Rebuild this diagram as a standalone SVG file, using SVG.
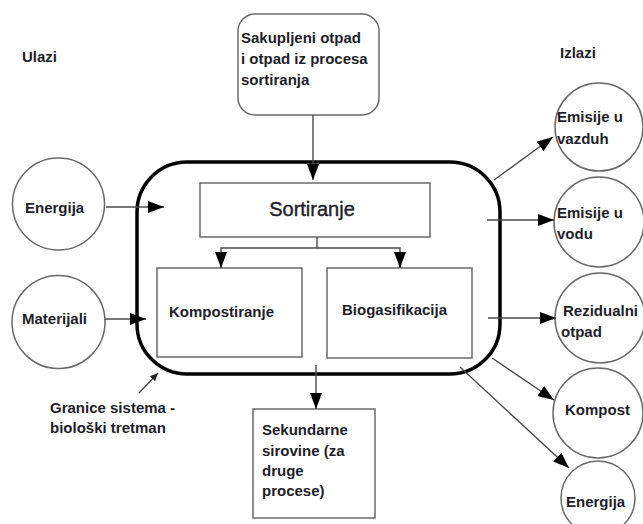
<svg xmlns="http://www.w3.org/2000/svg" width="643" height="524" viewBox="0 0 643 524">
  <style>
    .lbl { font-family: "Liberation Sans", Arial, sans-serif; font-size: 15px; font-weight: bold; fill: #1e1e28; }
    .big { font-family: "Liberation Sans", Arial, sans-serif; font-size: 20px; fill: #1e1e28; stroke: #1e1e28; stroke-width: 0.4; }
    .node { fill: #ffffff; stroke: #6a6a6a; stroke-width: 1.5; }
    .box { fill: #ffffff; stroke: #6a6a6a; stroke-width: 1.5; }
    .link { fill: none; stroke: #4a4a4a; stroke-width: 1.4; }
    .boundary { fill: none; stroke: #000000; stroke-width: 3.5; }
  </style>
  <defs>
    <marker id="arrow" markerUnits="userSpaceOnUse" markerWidth="16" markerHeight="12" refX="16" refY="6" orient="auto">
      <path d="M0,0 L16,6 L0,12 z" fill="#000000"/>
    </marker>
    <marker id="arrowSmall" markerUnits="userSpaceOnUse" markerWidth="8" markerHeight="7" refX="8" refY="3.5" orient="auto">
      <path d="M0,0 L8,3.5 L0,7 z" fill="#222222"/>
    </marker>
  </defs>

  <rect width="643" height="524" fill="#ffffff"/>

  <!-- column headings -->
  <text class="lbl" x="22" y="62">Ulazi</text>
  <text class="lbl" x="560" y="58">Izlazi</text>

  <!-- system boundary -->
  <g id="boundary">
    <rect class="boundary" x="137" y="162" width="363" height="212" rx="50" ry="50"/>
    <text class="lbl" x="50" y="413">Granice sistema -</text>
    <text class="lbl" x="50" y="433">biološki tretman</text>
  </g>

  <!-- inputs -->
  <g id="input-waste">
    <rect class="box" x="238" y="14" width="141" height="101" rx="17" ry="17"/>
    <text class="lbl" x="241" y="43">Sakupljeni otpad</text>
    <text class="lbl" x="241" y="64">i otpad iz procesa</text>
    <text class="lbl" x="241" y="85">sortiranja</text>
  </g>
  <g id="input-energy">
    <circle class="node" cx="58.5" cy="204" r="46"/>
    <text class="lbl" x="25" y="213">Energija</text>
  </g>
  <g id="input-materials">
    <circle class="node" cx="58.5" cy="322" r="46.5"/>
    <text class="lbl" x="22" y="324">Materijali</text>
  </g>

  <!-- processes -->
  <g id="sorting">
    <rect class="box" x="200" y="183" width="230" height="54"/>
    <text class="big" x="312" y="216" text-anchor="middle">Sortiranje</text>
  </g>
  <g id="composting">
    <rect class="box" x="157" y="268" width="145" height="89"/>
    <text class="lbl" x="169" y="317">Kompostiranje</text>
  </g>
  <g id="biogas">
    <rect class="box" x="327" y="268" width="145" height="90"/>
    <text class="lbl" x="342" y="315">Biogasifikacija</text>
  </g>
  <g id="secondary">
    <rect class="box" x="253" y="409" width="122" height="109"/>
    <text class="lbl" x="262" y="435">Sekundarne</text>
    <text class="lbl" x="262" y="456">sirovine (za</text>
    <text class="lbl" x="262" y="476">druge</text>
    <text class="lbl" x="262" y="496">procese)</text>
  </g>

  <!-- outputs -->
  <g id="out-air">
    <circle class="node" cx="599" cy="127" r="44"/>
    <text class="lbl" x="557" y="122">Emisije u</text>
    <text class="lbl" x="557" y="144">vazduh</text>
  </g>
  <g id="out-water">
    <circle class="node" cx="599" cy="222" r="45"/>
    <text class="lbl" x="557" y="218">Emisije u</text>
    <text class="lbl" x="557" y="239">vodu</text>
  </g>
  <g id="out-residual">
    <circle class="node" cx="600" cy="318" r="45"/>
    <text class="lbl" x="563" y="316">Rezidualni</text>
    <text class="lbl" x="561" y="337">otpad</text>
  </g>
  <g id="out-compost">
    <circle class="node" cx="598" cy="413" r="45"/>
    <text class="lbl" x="565" y="415">Kompost</text>
  </g>
  <g id="out-energy">
    <circle class="node" cx="598" cy="498" r="37"/>
    <text class="lbl" x="566" y="507">Energija</text>
  </g>

  <!-- connectors -->
  <g id="connectors">
    <line class="link" x1="313" y1="115" x2="313" y2="180" marker-end="url(#arrow)"/>
    <line class="link" x1="106" y1="207" x2="164" y2="207" marker-end="url(#arrow)"/>
    <line class="link" x1="105" y1="319" x2="146" y2="319" marker-end="url(#arrow)"/>
    <polyline class="link" points="317,237 317,248 221,248 221,268" marker-end="url(#arrow)"/>
    <polyline class="link" points="317,248 400,248 400,268" marker-end="url(#arrow)"/>
    <line class="link" x1="316" y1="365" x2="316" y2="409" marker-end="url(#arrow)"/>
    <line class="link" x1="494" y1="180" x2="553" y2="137" marker-end="url(#arrow)"/>
    <line class="link" x1="487" y1="220" x2="554" y2="220" marker-end="url(#arrow)"/>
    <line class="link" x1="488" y1="318" x2="556" y2="318" marker-end="url(#arrow)"/>
    <line class="link" x1="492" y1="358" x2="554" y2="400" marker-end="url(#arrow)"/>
    <line class="link" x1="460" y1="367" x2="569" y2="468" marker-end="url(#arrow)"/>
    <line class="link" x1="139" y1="393" x2="158" y2="373" marker-end="url(#arrowSmall)"/>
  </g>
</svg>
